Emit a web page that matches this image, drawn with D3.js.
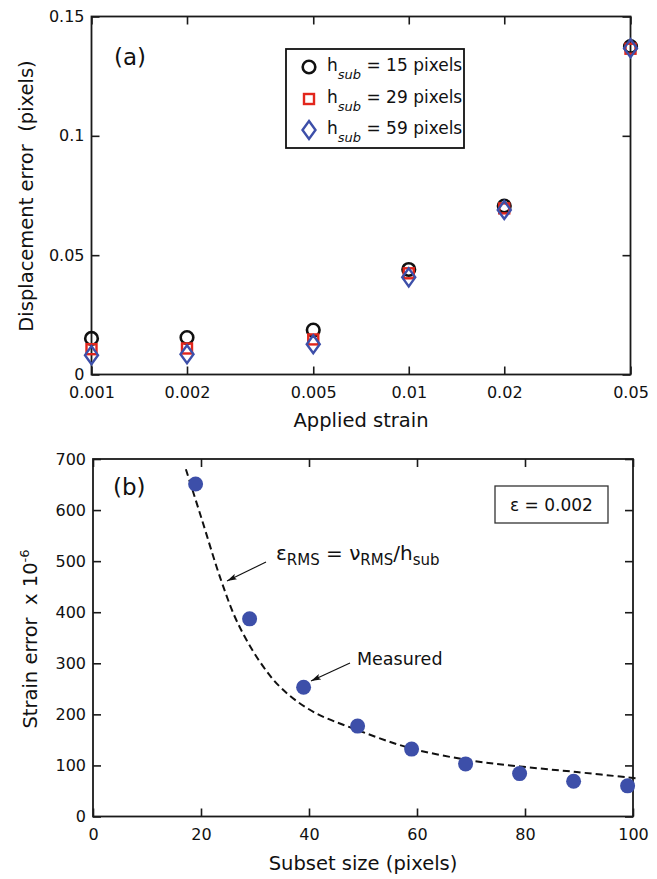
<!DOCTYPE html>
<html>
<head>
<meta charset="utf-8">
<script src="https://cdn.jsdelivr.net/npm/d3@7"></script>
<style>
body { margin: 0; background: #fff; }
text { font-family: "DejaVu Sans", sans-serif; fill: #111; }
</style>
</head>
<body>
<svg width="657" height="879"></svg>
<script>
// panel (a): displacement error vs applied strain
const strains = [0.001, 0.002, 0.005, 0.01, 0.02, 0.05];
const errH15 = [0.0151, 0.0155, 0.0186, 0.0440, 0.0706, 0.1374];
const errH29 = [0.0106, 0.0109, 0.0147, 0.0424, 0.0696, 0.1365];
const errH59 = [0.0081, 0.0085, 0.0127, 0.0407, 0.0689, 0.1367];
const strainTicks = ["0.001", "0.002", "0.005", "0.01", "0.02", "0.05"];
const dispTicks = ["0", "0.05", "0.1", "0.15"];
const legendSizes = ["15", "29", "59"];

// panel (b): strain error vs subset size
const subsetSizes = [19, 29, 39, 49, 59, 69, 79, 89, 99];
const strainErr = [651, 387, 253, 177, 132, 103, 84, 69, 60];
const fitX = [17.2, 20, 23.8, 26.7, 30.9, 35, 40.8, 48.8, 58.7, 69.8, 79.1, 89.6, 100.5];
const fitY = [680, 587, 460, 381, 303, 250, 205, 170, 134, 110, 98, 87, 75];
const subsetTicks = [0, 20, 40, 60, 80, 100];
const strainErrTicks = [0, 100, 200, 300, 400, 500, 600, 700];

const svg = d3.select("svg");
const blue = "#3d4fa9", red = "#e2261c";

svg.append("defs").append("marker")
    .attr("id", "arr")
    .attr("viewBox", "0 0 10 6")
    .attr("refX", 10).attr("refY", 3)
    .attr("markerWidth", 10).attr("markerHeight", 6)
    .attr("markerUnits", "userSpaceOnUse")
    .attr("orient", "auto")
    .append("path")
    .attr("d", "M0,0L10,3L0,6L2,3Z")
    .attr("fill", "#111");

// draws the box with inward ticks on all four sides
function frame(x, y, xTicks, yTicks, xFmt, yFmt) {
    const x0 = x.range()[0], x1 = x.range()[1];
    const y0 = y.range()[0], y1 = y.range()[1];
    const axes = [
        [d3.axisBottom(x).tickValues(xTicks).tickFormat(xFmt), `translate(0,${y0})`],
        [d3.axisTop(x).tickValues(xTicks).tickFormat(""), `translate(0,${y1})`],
        [d3.axisLeft(y).tickValues(yTicks).tickFormat(yFmt), `translate(${x0},0)`],
        [d3.axisRight(y).tickValues(yTicks).tickFormat(""), `translate(${x1},0)`]
    ];
    axes.forEach(([ax, tr], i) => {
        const g = svg.append("g").attr("transform", tr)
            .call(ax.tickSizeInner(-8).tickSizeOuter(0).tickPadding(i === 0 ? 12.5 : 7));
        g.select(".domain").remove();
        g.selectAll(".tick line").attr("stroke", "#1a1a1a").attr("stroke-width", 1.6);
        g.selectAll("text").style("font-size", "16px").attr("fill", "#111");
    });
    svg.append("rect")
        .attr("x", x0).attr("y", y1)
        .attr("width", x1 - x0).attr("height", y0 - y1)
        .attr("fill", "none").attr("stroke", "#1a1a1a").attr("stroke-width", 1.8);
}

// ---------- (a) ----------
const xa = d3.scaleLog().domain([0.001, 0.05]).range([91.5, 630.5]);
const ya = d3.scaleLinear().domain([0, 0.15]).range([374.5, 16.5]);

frame(xa, ya, strainTicks.map(Number), dispTicks.map(Number),
    (d, i) => strainTicks[i], (d, i) => dispTicks[i]);

const diamond = "M0,-9L6.5,0L0,9L-6.5,0Z";

svg.append("g").selectAll("circle").data(strains).join("circle")
    .attr("cx", d => xa(d)).attr("cy", (d, i) => ya(errH15[i]))
    .attr("r", 6.3).attr("fill", "none").attr("stroke", "#111").attr("stroke-width", 2.6);
svg.append("g").selectAll("rect").data(strains).join("rect")
    .attr("x", d => xa(d) - 5).attr("y", (d, i) => ya(errH29[i]) - 5)
    .attr("width", 10).attr("height", 10)
    .attr("fill", "none").attr("stroke", red).attr("stroke-width", 2.4);
svg.append("g").selectAll("path").data(strains).join("path")
    .attr("transform", (d, i) => `translate(${xa(d)},${ya(errH59[i])})`)
    .attr("d", diamond).attr("fill", "none").attr("stroke", blue).attr("stroke-width", 2.4);

svg.append("text").attr("x", 114).attr("y", 65).style("font-size", "23px").text("(a)");

// legend
svg.append("rect").attr("x", 286).attr("y", 49).attr("width", 178).attr("height", 99)
    .attr("fill", "#fff").attr("stroke", "#111").attr("stroke-width", 1.8);
const rowY = [67, 99, 130];
svg.append("circle").attr("cx", 309).attr("cy", rowY[0]).attr("r", 6.3)
    .attr("fill", "none").attr("stroke", "#111").attr("stroke-width", 2.6);
svg.append("rect").attr("x", 304).attr("y", rowY[1] - 5).attr("width", 10).attr("height", 10)
    .attr("fill", "none").attr("stroke", red).attr("stroke-width", 2.4);
svg.append("path").attr("transform", `translate(309,${rowY[2]})`).attr("d", diamond)
    .attr("fill", "none").attr("stroke", blue).attr("stroke-width", 2.4);
legendSizes.forEach((s, i) => {
    const t = svg.append("text").attr("x", 327).attr("y", rowY[i] + 4).style("font-size", "17px");
    t.append("tspan").text("h");
    t.append("tspan").attr("dy", 7.5).style("font-size", "13px").style("font-style", "italic").text("sub");
    t.append("tspan").attr("dy", -7.5).text(" = " + s + " pixels");
});

svg.append("text").attr("x", 361).attr("y", 427).attr("text-anchor", "middle")
    .style("font-size", "19.5px").text("Applied strain");
svg.append("text").attr("transform", "translate(33,196) rotate(-90)").attr("text-anchor", "middle")
    .style("font-size", "19.5px").style("white-space", "pre").text("Displacement error  (pixels)");

// ---------- (b) ----------
const xb = d3.scaleLinear().domain([0, 100]).range([93, 633]);
const yb = d3.scaleLinear().domain([0, 700]).range([816.5, 459]);

frame(xb, yb, subsetTicks, strainErrTicks, d3.format("d"), d3.format("d"));

const fit = d3.line().x(d => xb(d[0])).y(d => yb(d[1])).curve(d3.curveCatmullRom);
svg.append("path").attr("d", fit(fitX.map((v, i) => [v, fitY[i]])))
    .attr("fill", "none").attr("stroke", "#111").attr("stroke-width", 2)
    .attr("stroke-dasharray", "7,4");

svg.append("g").selectAll("circle").data(subsetSizes).join("circle")
    .attr("cx", d => xb(d)).attr("cy", (d, i) => yb(strainErr[i]))
    .attr("r", 7.5).attr("fill", blue);

svg.append("text").attr("x", 113).attr("y", 495).style("font-size", "23px").text("(b)");

svg.append("rect").attr("x", 495).attr("y", 486).attr("width", 113).attr("height", 37)
    .attr("fill", "#fff").attr("stroke", "#333").attr("stroke-width", 1.3);
svg.append("text").attr("x", 510).attr("y", 511).style("font-size", "17px").text("ε = 0.002");

const f = svg.append("text").attr("x", 276).attr("y", 560).style("font-size", "20px");
f.append("tspan").text("ε");
f.append("tspan").attr("dy", 5).style("font-size", "15px").text("RMS");
f.append("tspan").attr("dy", -5).text(" = ν");
f.append("tspan").attr("dy", 5).style("font-size", "15px").text("RMS");
f.append("tspan").attr("dy", -5).text("/h");
f.append("tspan").attr("dy", 5).style("font-size", "15px").text("sub");
svg.append("line").attr("x1", 266).attr("y1", 562).attr("x2", 227).attr("y2", 581)
    .attr("stroke", "#111").attr("stroke-width", 1.2).attr("marker-end", "url(#arr)");

svg.append("text").attr("x", 357).attr("y", 665).style("font-size", "17.5px").text("Measured");
svg.append("line").attr("x1", 350).attr("y1", 663).attr("x2", 311).attr("y2", 681)
    .attr("stroke", "#111").attr("stroke-width", 1.2).attr("marker-end", "url(#arr)");

svg.append("text").attr("x", 363).attr("y", 870).attr("text-anchor", "middle")
    .style("font-size", "19.5px").text("Subset size (pixels)");
const yl = svg.append("text").attr("transform", "translate(37,639) rotate(-90)")
    .attr("text-anchor", "middle").style("font-size", "19.5px").style("white-space", "pre");
yl.append("tspan").text("Strain error  x 10");
yl.append("tspan").attr("dy", -8).style("font-size", "13px").text("-6");
</script>
</body>
</html>
